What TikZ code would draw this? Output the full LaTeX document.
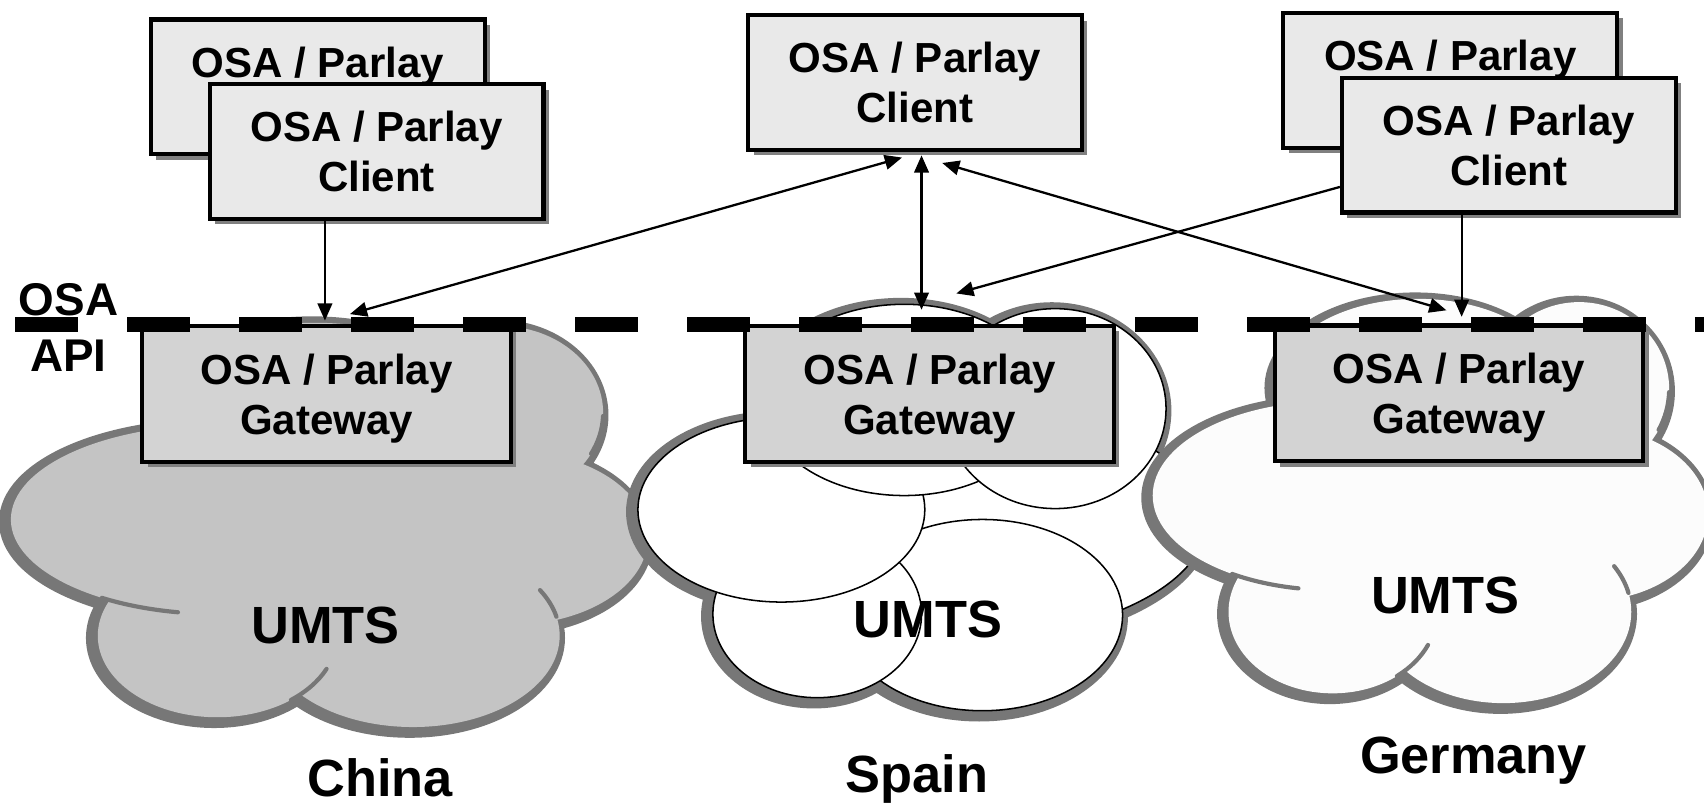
\documentclass[tikz,border=0pt]{standalone}
\usepackage{fontspec}
\setmainfont{Liberation Sans}
\usetikzlibrary{arrows.meta,calc,shadows}
\definecolor{clientfill}{HTML}{E9E9E9}
\definecolor{gwfill}{HTML}{D3D3D3}
\definecolor{chinafill}{HTML}{C4C4C4}
\definecolor{cloudshadow}{HTML}{777777}
\definecolor{gerfill}{HTML}{FCFCFC}
\definecolor{boxshadow}{HTML}{808080}
\newcommand\cloudlobes{
 (200,478) ellipse [x radius=190, y radius=87]
 (200,585) ellipse [x radius=110, y radius=75]
 (380,585) ellipse [x radius=135, y radius=84]
 (470,495) ellipse [x radius=126, y radius=80]
 (460,380) ellipse [x radius=95, y radius=80]
 (290,377) ellipse [x radius=150, y radius=80]
 (330,500) ellipse [x radius=200, y radius=100]
}
\newcommand\cloudcreases{
 \draw[crease] (200,478) ++(101:190 and 87) arc[start angle=101, end angle=124, x radius=190, y radius=87];
 \draw[crease] (200,585) ++(24:110 and 75) arc[start angle=24, end angle=52, x radius=110, y radius=75];
 \draw[crease] (380,585) ++(-30:135 and 84) arc[start angle=-30, end angle=-12, x radius=135, y radius=84];
 \draw[crease] (460,380) ++(2:95 and 80) arc[start angle=2, end angle=28, x radius=95, y radius=80];
}
\begin{document}
\begin{tikzpicture}[x=0.01cm,y=-0.01cm,
  boxbase/.style={draw=black, line width=1.1pt, inner sep=0pt, align=center, text depth=0pt,
    font=\fontsize{11}{13.1}\selectfont\bfseries,
    drop shadow={shadow xshift=0.05cm, shadow yshift=-0.05cm, fill=boxshadow, opacity=1}},
  client/.style={boxbase, fill=clientfill, minimum width=3.07cm, minimum height=1.24cm},
  gateway/.style={boxbase, fill=gwfill, minimum width=3.39cm, minimum height=1.25cm},
  lbl/.style={font=\fontsize{13.7}{16}\selectfont\bfseries, inner sep=0pt, anchor=base},
  apilbl/.style={font=\fontsize{12}{14}\selectfont\bfseries, inner sep=0pt, anchor=base},
  arr/.style={line width=0.6pt, -{Triangle[length=4.5pt,width=3.8pt]}},
  darr/.style={line width=0.6pt, {Triangle[length=4.5pt,width=3.8pt]}-{Triangle[length=4.5pt,width=3.8pt]}},
  cshadow/.style={fill=cloudshadow, draw=cloudshadow, line width=4.5pt},
  crease/.style={draw=cloudshadow, line width=1.1pt, line cap=round},
  sell/.style={fill=white, draw=black, line width=0.4pt},
  apiline/.style={line width=3.9pt, dash pattern=on 16.5pt off 12.8pt}
]
\useasboundingbox (0,0) rectangle (1568,739);
\clip (0,0) rectangle (1568,739);

% ---- China cloud
\path[cshadow, shift={(-3,2)}] \cloudlobes;
\path[fill=chinafill] \cloudlobes;
\cloudcreases

% ---- Spain cloud
\path[cshadow, shift={(-3,2)}]
 (870,480) ellipse [x radius=240, y radius=110]
 (904,566) ellipse [x radius=129, y radius=88]
 (752,565) ellipse [x radius=96, y radius=77]
 (719,469) ellipse [x radius=132, y radius=85]
 (832,368) ellipse [x radius=130, y radius=88]
 (971,376) ellipse [x radius=102, y radius=92];
\path[sell] (870,480) ellipse [x radius=240, y radius=110];
\path[sell] (904,566) ellipse [x radius=129, y radius=88];
\path[sell] (752,565) ellipse [x radius=96, y radius=77];
\path[sell] (719,469) ellipse [x radius=132, y radius=85];
\path[sell] (832,368) ellipse [x radius=130, y radius=88];
\path[sell] (971,376) ellipse [x radius=102, y radius=92];

% ---- Germany cloud
\begin{scope}[shift={(1052,-22)}, xscale=0.872]
\path[cshadow, shift={(-3,2)}] \cloudlobes;
\path[fill=gerfill] \cloudlobes;
\cloudcreases
\end{scope}

% ---- boxes
\node[gateway] (chinaGW) at (300.5,362.5) {OSA / Parlay\\Gateway};
\node[gateway] (spainGW) at (855.5,362.5) {OSA / Parlay\\Gateway};
\node[gateway] (gerGW) at (1342.5,362) {OSA / Parlay\\Gateway};

\node[client] (chinaBack) at (292.5,80) {OSA / Parlay\\\phantom{Client}};
\node[client] (chinaFront) at (346.5,139.5) {OSA / Parlay\\Client};
\node[client] (spainClient) at (842,76) {OSA / Parlay\\Client};
\node[client] (gerBack) at (1334.5,74) {OSA / Parlay\\\phantom{Client}};
\node[client] (gerFront) at (1388.5,133.5) {OSA / Parlay\\Client};

% ---- OSA API dashed line
\draw[apiline] (14,298.5) -- (1600,298.5);

% ---- arrows
\draw[arr] ($(chinaFront.south)+(-47.5,0)$) -- ($(chinaGW.north)+(-1.5,-3)$);
\draw[darr] ($(chinaGW.north)+(21.5,-9)$) -- ($(spainClient.south)+(-12,5)$);
\draw[darr] ($(spainClient.south)+(6,3)$) -- ($(spainGW.north)+(-7.5,-13)$);
\draw[darr] ($(spainClient.south)+(25,10)$) -- ($(gerGW.north)+(-11.5,-12)$);
\draw[arr] ($(gerFront.west)+(0,38.5)$) -- ($(spainGW.north)+(24.5,-28)$);
\draw[arr] ($(gerFront.south)+(-43.5,0)$) -- ($(gerGW.north)+(2.5,-6)$);

% ---- labels
\node[apilbl] (osa) at (63,290) {OSA};
\node[apilbl] (api) at (63,342) {API};
\node[lbl] (umtsC) at (299.6,592) {UMTS};
\node[lbl] (umtsS) at (854,587) {UMTS};
\node[lbl] (umtsG) at (1330,564.5) {UMTS};
\node[lbl] (china) at (350,733) {China};
\node[lbl] (spain) at (844,729) {Spain};
\node[lbl] (germany) at (1356,711.5) {Germany};
\end{tikzpicture}
\end{document}
